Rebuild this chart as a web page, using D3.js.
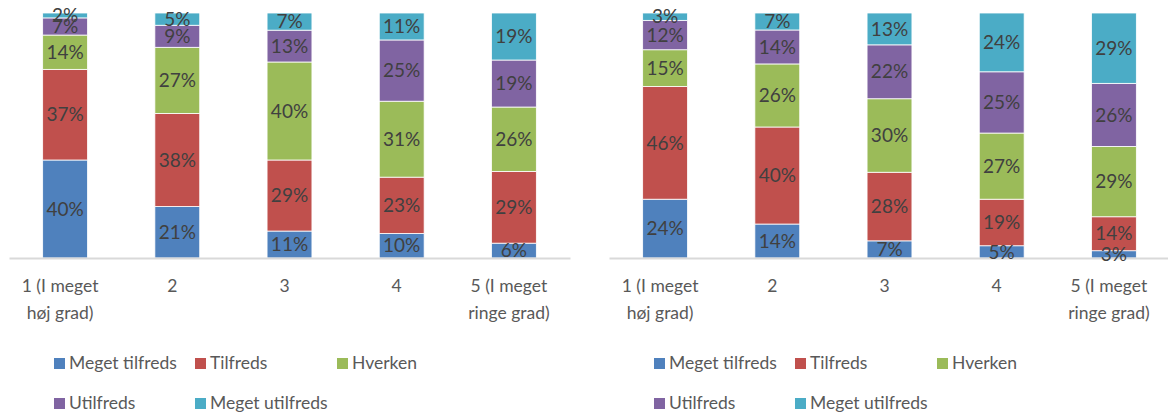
<!DOCTYPE html>
<html>
<head>
<meta charset="utf-8">
<style>
    body { margin: 0; background: #fff; }
    text { font-family: Lato, "Open Sans", sans-serif; }
    .lbl { fill: #404040; font-size: 19px; }
    .tick text { fill: #595959; font-size: 17.5px; }
    .leg { fill: #595959; font-size: 17.5px; }
</style>
</head>
<body>
<svg id="chart" width="1168" height="414"></svg>
<script src="https://cdn.jsdelivr.net/npm/d3@7"></script>
<script>
const categories = ["1 (I meget høj grad)", "2", "3", "4", "5 (I meget ringe grad)"]
const tickLines = [["1 (I meget", "høj grad)"], ["2"], ["3"], ["4"], ["5 (I meget", "ringe grad)"]]
const seriesNames = ["Meget tilfreds", "Tilfreds", "Hverken", "Utilfreds", "Meget utilfreds"]
const colors = ["#4F81BD", "#C0504D", "#9BBB59", "#8064A2", "#4BACC6"]

// left panel, one array per series (in category order)
const leftMegetTilfreds = [40, 21, 11, 10, 6]
const leftTilfreds = [37, 38, 29, 23, 29]
const leftHverken = [14, 27, 40, 31, 26]
const leftUtilfreds = [7, 9, 13, 25, 19]
const leftMegetUtilfreds = [2, 5, 7, 11, 19]

// right panel
const rightMegetTilfreds = [24, 14, 7, 5, 3]
const rightTilfreds = [46, 40, 28, 19, 14]
const rightHverken = [15, 26, 30, 27, 29]
const rightUtilfreds = [12, 14, 22, 25, 26]
const rightMegetUtilfreds = [3, 7, 13, 24, 29]

let svg = d3.select("#chart")

function buildRows(series) {
    return categories.map((c, i) => {
        let row = { cat: c }
        seriesNames.forEach((s, j) => row[s] = series[j][i])
        return row
    })
}

function drawPanel(series, x0) {
    let g = svg.append("g")
    let data = buildRows(series)

    let xScale = d3.scaleBand()
        .domain(categories)
        .range([x0 + 9, x0 + 570])
        .paddingInner(0.6)
        .paddingOuter(0.3)

    let yScale = d3.scaleLinear().domain([0, 1]).range([258, 13])

    let stacked = d3.stack().keys(seriesNames).offset(d3.stackOffsetExpand)(data)

    let layers = g.selectAll(".layer")
        .data(stacked)
        .join("g")
        .attr("fill", (d, i) => colors[i])

    layers.selectAll("rect")
        .data(d => d)
        .join("rect")
        .attr("x", d => xScale(d.data.cat))
        .attr("width", xScale.bandwidth())
        .attr("y", d => yScale(d[1]))
        .attr("height", d => yScale(d[0]) - yScale(d[1]))
        .attr("stroke", "#fff")
        .attr("stroke-width", 0.8)

    // x axis
    let axis = g.append("g")
        .attr("transform", "translate(0,258)")
        .call(d3.axisBottom(xScale).tickSize(0).tickSizeOuter(0))
    axis.select(".domain").attr("stroke", "#D9D9D9").attr("stroke-width", 2)
    axis.selectAll(".tick text").each(function (d, i) {
        let t = d3.select(this).text(null).attr("y", 0).attr("dy", null)
        tickLines[i].forEach((ln, k) => {
            t.append("tspan").attr("x", -5).attr("y", 34 + k * 27).text(ln)
        })
    })

    // data labels, drawn above every bar segment
    let labels = stacked.flatMap(layer => layer.map(v => ({ v: v, key: layer.key })))
    g.append("g").selectAll("text")
        .data(labels)
        .join("text")
        .attr("class", "lbl")
        .attr("text-anchor", "middle")
        .attr("dy", "0.35em")
        .attr("x", d => xScale(d.v.data.cat) + xScale.bandwidth() / 2)
        .attr("y", d => (yScale(d.v[0]) + yScale(d.v[1])) / 2)
        .text(d => d.v.data[d.key] + "%")

    // legend
    let colX = [54, 195, 337]
    let leg = g.selectAll(".legItem")
        .data(seriesNames)
        .join("g")
        .attr("transform", (d, i) => "translate(" + (x0 + colX[i % 3]) + "," + (363 + Math.floor(i / 3) * 40) + ")")
    leg.append("rect")
        .attr("x", 0).attr("y", -5).attr("width", 11).attr("height", 11)
        .attr("fill", (d, i) => colors[i])
    leg.append("text")
        .attr("class", "leg")
        .attr("x", 15).attr("dy", "0.35em")
        .text(d => d)
}

drawPanel([leftMegetTilfreds, leftTilfreds, leftHverken, leftUtilfreds, leftMegetUtilfreds], 0)
drawPanel([rightMegetTilfreds, rightTilfreds, rightHverken, rightUtilfreds, rightMegetUtilfreds], 600)
</script>
</body>
</html>
